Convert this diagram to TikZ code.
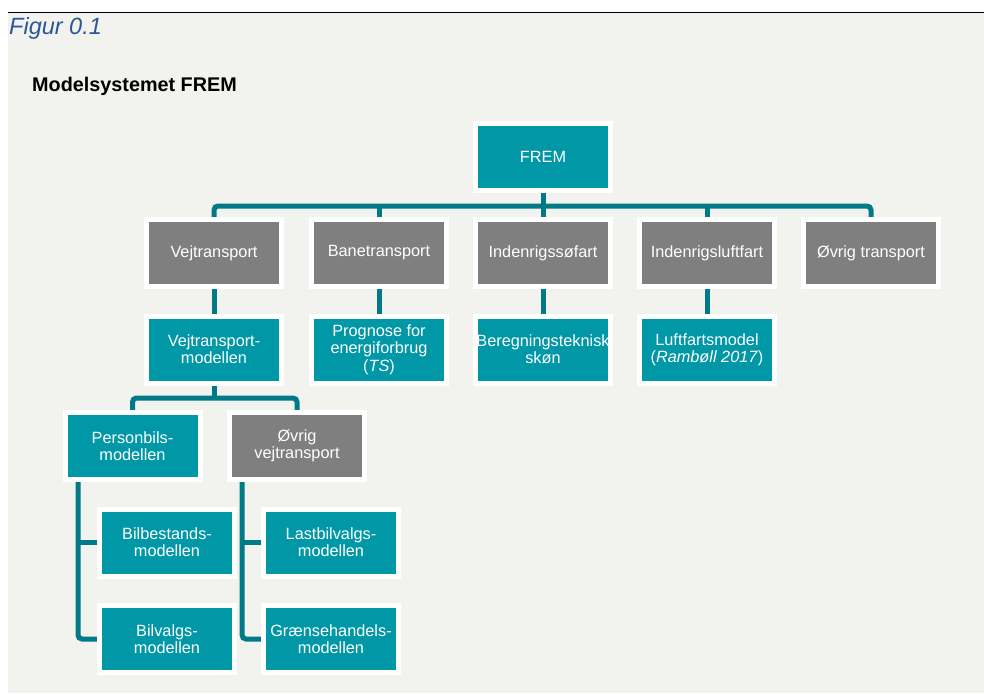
\documentclass[tikz,border=0pt]{standalone}
\usepackage{fontspec}
\setmainfont{Liberation Sans}
\usetikzlibrary{backgrounds}
\definecolor{bgc}{HTML}{F2F2EE}
\definecolor{teal}{HTML}{0097A7}
\definecolor{greyb}{HTML}{7F7F7F}
\definecolor{connc}{HTML}{007A87}
\definecolor{figblue}{HTML}{2B5797}
\tikzset{
  box/.style={draw=white, line width=5pt, minimum width=135pt, minimum height=67pt, inner sep=0pt, align=center, text=white, font=\fontsize{16.3}{17.3}\selectfont},
  tbox/.style={box, fill=teal},
  gbox/.style={box, fill=greyb},
  conn/.style={draw=connc, line width=5pt, rounded corners=4pt},
}
\begin{document}
\begin{tikzpicture}[x=1pt,y=-1pt]
\useasboundingbox (0,0) rectangle (984,693);
\draw[black, line width=1.3pt] (8,12.5) -- (984,12.5);
\node[anchor=base west, text=figblue, font=\fontsize{23.5}{25}\selectfont\itshape, inner sep=0pt] (fig) at (9,35) {Figur 0.1};
\node[anchor=base west, font=\fontsize{19.8}{21}\selectfont\bfseries, inner sep=0pt] (ttl) at (32,91) {Modelsystemet FREM};

\node[tbox] (frem) at (543,157) {FREM};
\node[gbox] (vej) at (214,253) {Vejtransport};
\node[gbox] (ban) at (379,253) {Banetransport};
\node[gbox] (ind) at (543,253) {Indenrigssøfart};
\node[gbox] (luft) at (707,253) {Indenrigsluftfart};
\node[gbox] (ovr) at (871,253) {Øvrig transport};

\node[tbox] (vejm) at (214,349.5) {Vejtransport-\\modellen};
\node[tbox] (prog) at (379,349.5) {Prognose for\\energiforbrug\\(\textit{TS})};
\node[tbox] (bereg) at (543,349.5) {Beregningsteknisk\\skøn};
\node[tbox] (luftm) at (707,349.5) {Luftfartsmodel\\(\textit{Rambøll 2017})};

\node[tbox] (pers) at (132.5,446) {Personbils-\\modellen};
\node[gbox] (ovrvej) at (297,446) {Øvrig\\vejtransport};

\node[tbox] (bilb) at (167,542.5) {Bilbestands-\\modellen};
\node[tbox] (bilv) at (167,639) {Bilvalgs-\\modellen};
\node[tbox] (last) at (331,542.5) {Lastbilvalgs-\\modellen};
\node[tbox] (graen) at (331,639) {Grænsehandels-\\modellen};

\coordinate (bar1) at (0,206);
\coordinate (bar2) at (0,398);
\coordinate (rail1) at (78,446);
\coordinate (rail2) at (242,446);

\begin{pgfonlayer}{background}
\fill[bgc] (8,13) rectangle (984,693);
\draw[conn] (frem.center) -- (frem.center |- bar1);
\draw[conn] (vej.center) -- (vej.center |- bar1) -- (ovr.center |- bar1) -- (ovr.center);
\draw[conn] (ban.center) -- (ban.center |- bar1);
\draw[conn] (ind.center) -- (ind.center |- bar1);
\draw[conn] (luft.center) -- (luft.center |- bar1);

\draw[conn] (vej.center) -- (vejm.center);
\draw[conn] (ban.center) -- (prog.center);
\draw[conn] (ind.center) -- (bereg.center);
\draw[conn] (luft.center) -- (luftm.center);

\draw[conn] (vejm.center) -- (vejm.center |- bar2);
\draw[conn] (pers.center) -- (pers.center |- bar2) -- (ovrvej.center |- bar2) -- (ovrvej.center);

\draw[conn] (rail1) -- (rail1 |- bilv) -- (bilv.center);
\draw[conn] (rail1 |- bilb) -- (bilb.center);
\draw[conn] (rail2) -- (rail2 |- graen) -- (graen.center);
\draw[conn] (rail2 |- last) -- (last.center);
\end{pgfonlayer}
\end{tikzpicture}
\end{document}
